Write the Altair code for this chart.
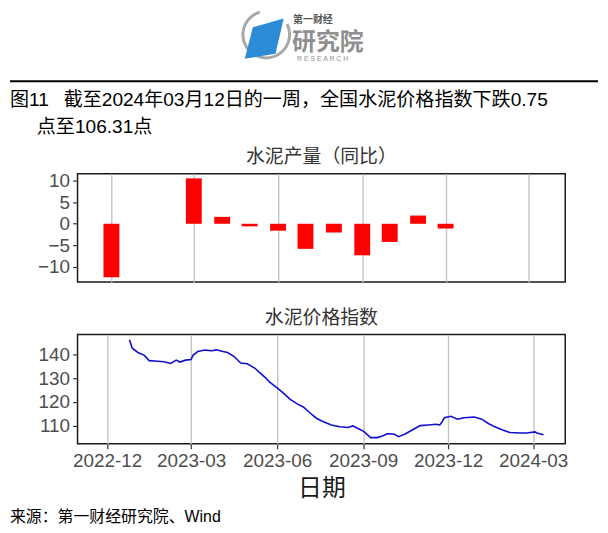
import altair as alt
import pandas as pd

# ---------------- data ----------------
output_months = ["2022-12-01", "2023-03-01", "2023-04-01", "2023-05-01", "2023-06-01",
                 "2023-07-01", "2023-08-01", "2023-09-01", "2023-10-01", "2023-11-01",
                 "2023-12-01"]
output_yoy = [-12.4, 10.5, 1.6, -0.6, -1.6, -5.8, -2.0, -7.3, -4.2, 1.9, -1.1]

price_dates = ["2022-12-25", "2022-12-28", "2023-01-03", "2023-01-10", "2023-01-15",
               "2023-01-24", "2023-01-31", "2023-02-07", "2023-02-13", "2023-02-17",
               "2023-02-23", "2023-03-01", "2023-03-03", "2023-03-08", "2023-03-16",
               "2023-03-23", "2023-03-28", "2023-04-04", "2023-04-09", "2023-04-16",
               "2023-04-23", "2023-04-30", "2023-05-08", "2023-05-13", "2023-05-20",
               "2023-05-24", "2023-06-01", "2023-06-08", "2023-06-15", "2023-06-22",
               "2023-06-29", "2023-07-06", "2023-07-13", "2023-07-20", "2023-07-29",
               "2023-08-07", "2023-08-16", "2023-08-21", "2023-08-26", "2023-09-02",
               "2023-09-09", "2023-09-16", "2023-09-21", "2023-09-27", "2023-10-04",
               "2023-10-09", "2023-10-16", "2023-10-25", "2023-11-01", "2023-11-10",
               "2023-11-18", "2023-11-22", "2023-11-24", "2023-11-27", "2023-12-04",
               "2023-12-11", "2023-12-18", "2023-12-29", "2024-01-06", "2024-01-13",
               "2024-01-20", "2024-01-29", "2024-02-05", "2024-02-16", "2024-02-23",
               "2024-03-03", "2024-03-05", "2024-03-12"]
price_values = [146.0, 142.5, 140.7, 139.5, 137.3, 137.0, 136.8, 136.1, 137.5, 136.7,
                137.5, 137.8, 139.5, 141.1, 141.7, 141.4, 141.8, 141.1, 140.7, 139.0,
                136.3, 136.0, 134.2, 132.4, 130.0, 128.3, 125.9, 123.6, 121.1, 119.3,
                117.9, 115.5, 113.2, 111.8, 110.4, 109.6, 109.3, 110.0, 109.0, 107.6,
                105.1, 105.1, 105.7, 106.7, 106.6, 105.5, 106.6, 108.6, 110.1, 110.4,
                110.7, 110.4, 111.4, 113.4, 114.0, 112.8, 113.4, 113.7, 112.8, 111.0,
                109.6, 108.2, 107.2, 107.0, 107.0, 107.5, 107.06, 106.31]

tick_dates = [(2022, 12), (2023, 3), (2023, 6), (2023, 9), (2023, 12), (2024, 3)]
yoy_ticks = [-10, -5, 0, 5, 10]
price_ticks = [110, 120, 130, 140]

title_line1 = "图11\u2002 截至2024年03月12日的一周，全国水泥价格指数下跌0.75"
title_line2 = "点至106.31点"
panel1_title = "水泥产量（同比）"
panel2_title = "水泥价格指数"
x_title = "日期"
source_text = "来源：第一财经研究院、Wind"
logo_small = "第一财经"
logo_big = "研究院"
logo_en = "R E S E A R C H"

# ---------------- styling ----------------
W = 491
H1 = 109
H2 = 110
FONT = "Liberation Sans, Noto Sans CJK SC, sans-serif"
CJK = "Noto Sans CJK SC, sans-serif"
GRID = "#c4c4c4"
LABEL = "#4d4d4d"

x_vals = [alt.DateTime(year=y, month=m, date=1, utc=True) for y, m in tick_dates]
x_domain = [alt.DateTime(year=2022, month=10, date=30, hours=10, utc=True),
            alt.DateTime(year=2024, month=4, date=4, hours=7, utc=True)]
x_scale = alt.Scale(type="utc", domain=x_domain, nice=False)

bars_df = pd.DataFrame({"date": output_months, "yoy": output_yoy})
line_df = pd.DataFrame({"date": price_dates, "price": price_values})
one = pd.DataFrame({"k": [0]})


def label(text, x, y, size, color="#000000", font=FONT, align="left",
          baseline="middle", weight="normal"):
    return alt.Chart(one).mark_text(align=align, baseline=baseline, fontSize=size,
                                    color=color, font=font, fontWeight=weight).encode(
        x=alt.value(x), y=alt.value(y), text=alt.value(text))


bars = alt.Chart(bars_df).mark_bar(size=16, color="#ff0000").encode(
    x=alt.X("date:T", scale=x_scale,
            axis=alt.Axis(values=x_vals, labels=False, ticks=False, domain=False,
                          grid=True, gridColor=GRID, gridWidth=1.4, title=None)),
    y=alt.Y("yoy:Q", scale=alt.Scale(domain=[-13.45, 11.6], nice=False, zero=False),
            axis=alt.Axis(values=yoy_ticks, grid=False, domain=False, tickSize=5,
                          tickColor="#333333", tickWidth=1.2, labelPadding=3,
                          labelFontSize=19, labelColor=LABEL, labelFont=FONT, title=None)),
)

# header decorations (logo, rule, figure title), placed relative to the top panel
ring = alt.Chart(one).mark_arc(radius=25, radius2=22, theta=1.1, theta2=6.0,
                               color="#a8a8a8").encode(
    x=alt.value(190), y=alt.value(-140))
blade = alt.Chart(one).mark_point(
    shape="M -0.54 -0.58 L 0.92 -1 L 0.53 0.67 L -0.92 0.91 Z",
    filled=True, size=1815, color="#2b8bd6", opacity=1).encode(
    x=alt.value(188), y=alt.value(-135))
t_small = label(logo_small, 217, -152, 10, "#555555", CJK, baseline="alphabetic",
                weight="bold")
t_big = label(logo_big, 216, -124, 24, "#8f8f8f", CJK, baseline="alphabetic",
              weight="bold")
t_en = label(logo_en, 221, -113, 7, "#8f8f8f", FONT, baseline="alphabetic")
rule = alt.Chart(one).mark_rule(color="#000000", strokeWidth=2).encode(
    x=alt.value(-68), x2=alt.value(524), y=alt.value(-93))
t1 = label(title_line1, -68, -74, 19.2)
t2 = label(title_line2, -41, -47, 19.2)
p1 = label(panel1_title, W / 2, -17, 19, "#333333", CJK, align="center")

top = alt.layer(bars, ring, blade, t_small, t_big, t_en, rule, t1, t2, p1).properties(
    width=W, height=H1)

line = alt.Chart(line_df).mark_line(color="#1010cc", strokeWidth=1.6).encode(
    x=alt.X("date:T", scale=x_scale,
            axis=alt.Axis(values=x_vals, format="%Y-%m", grid=True, gridColor=GRID,
                          gridWidth=1.4, domain=False, tickSize=5, tickColor="#333333",
                          tickWidth=1.2, labelPadding=3, labelFontSize=19,
                          labelColor=LABEL, labelFont=FONT, title=x_title,
                          titleFontSize=24, titleFont=CJK, titleFontWeight="normal",
                          titleColor="#1a1a1a", titlePadding=6)),
    y=alt.Y("price:Q", scale=alt.Scale(domain=[102.5, 148.2], nice=False, zero=False),
            axis=alt.Axis(values=price_ticks, grid=False, domain=False, tickSize=5,
                          tickColor="#333333", tickWidth=1.2, labelPadding=3,
                          labelFontSize=19, labelColor=LABEL, labelFont=FONT, title=None)),
)
src = label(source_text, -68, 184, 16)
p2 = label(panel2_title, W / 2, -16.5, 19, "#333333", CJK, align="center")

bottom = alt.layer(line, src, p2).properties(width=W, height=H2)

chart = alt.vconcat(top, bottom, spacing=25).properties(
    padding=0, background="white"
).configure_view(stroke="#1a1a1a", strokeWidth=1.5)

chart.save("out.html", embed_options={"renderer": "svg", "actions": False})
